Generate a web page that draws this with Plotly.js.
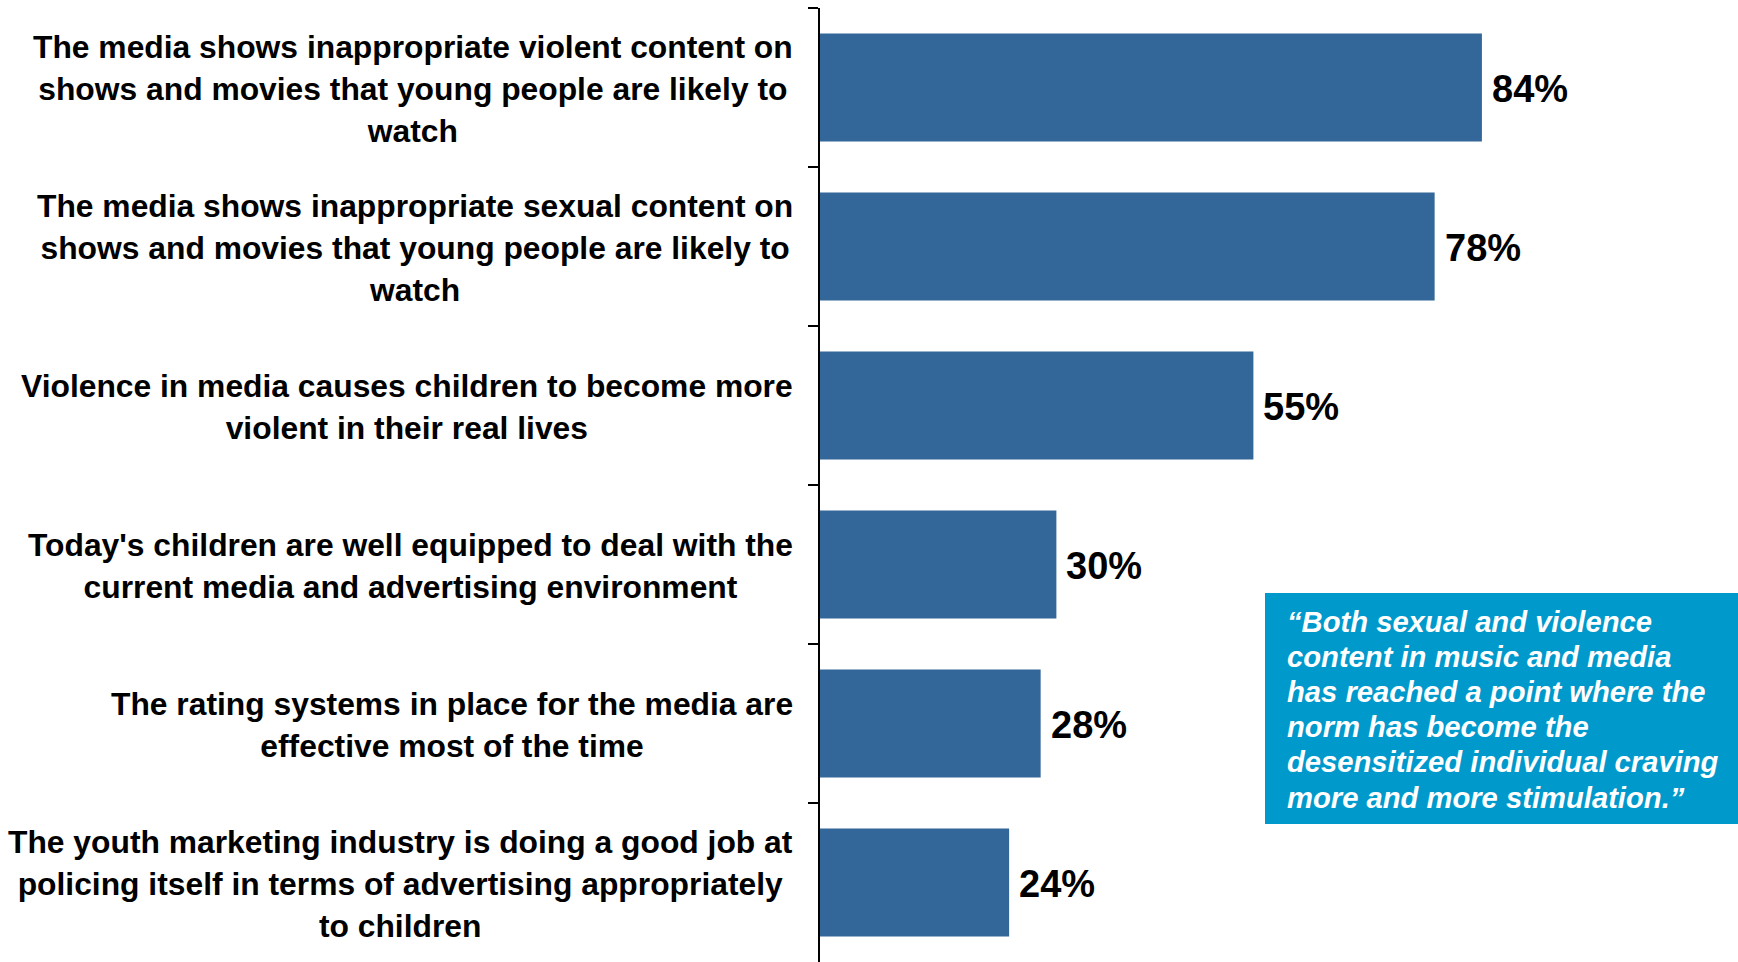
<!DOCTYPE html>
<html>
<head>
<meta charset="utf-8">
<script src="https://cdn.plot.ly/plotly-3.0.1.min.js"></script>
<style>
html,body{margin:0;padding:0;background:#fff;}
#chart{width:1738px;height:962px;}
</style>
</head>
<body>
<div id="chart"></div>
<script>
var categories = [
  "The media shows inappropriate violent content on<br>shows and movies that young people are likely to<br>watch",
  "The media shows inappropriate sexual content on<br>shows and movies that young people are likely to<br>watch",
  "Violence in media causes children to become more<br>violent in their real lives",
  "Today's children are well equipped to deal with the<br>current media and advertising environment",
  "The rating systems in place for the media are<br>effective most of the time",
  "The youth marketing industry is doing a good job at<br>policing itself in terms of advertising appropriately<br>to children"
];
var values = [84, 78, 55, 30, 28, 24];
var quoteLines = [
  "“Both sexual and violence",
  "content in music and media",
  "has reached a point where the",
  "norm has become the",
  "desensitized individual craving",
  "more and more stimulation.”"
];

var FONT = '"Liberation Sans", Arial, sans-serif';
var BAR = '#336699';
var BOX = '#0099CC';

var keys = categories.map(function(c, i){ return 'c' + i; });

var trace = {
  type: 'bar',
  orientation: 'h',
  x: values,
  y: keys,
  marker: {color: BAR, line: {width: 0}},
  hoverinfo: 'none',
  cliponaxis: false
};

var annotations = [];
categories.forEach(function(c, i){
  var lines = c.split('<br>').map(function(l){
    return '<span style="font-size:31.8px">' + l + '</span>';
  }).join('<br>');
  annotations.push({
    xref: 'paper', x: 0, xshift: -25, yshift: -1, xanchor: 'right',
    yref: 'y', y: keys[i], yanchor: 'middle',
    text: '<b>' + lines + '</b>', align: 'center', showarrow: false,
    font: {family: FONT, size: 32.3, color: '#000'}
  });
  annotations.push({
    xref: 'x', x: values[i], xshift: 8, yshift: -1, xanchor: 'left',
    yref: 'y', y: keys[i], yanchor: 'middle',
    text: '<b>' + values[i] + '%</b>', showarrow: false,
    font: {family: FONT, size: 38, color: '#000'}
  });
});

annotations.push({
  xref: 'paper', x: (1285 - 820) / 918, xanchor: 'left',
  yref: 'paper', y: 1 - (710 - 8) / 954, yanchor: 'middle',
  text: '<b><i>' + quoteLines.map(function(l){
    return '<span style="font-size:29.2px">' + l + '</span>';
  }).join('<br>') + '</i></b>',
  align: 'left', showarrow: false,
  font: {family: FONT, size: 27, color: '#fff'}
});

var layout = {
  width: 1738, height: 962,
  margin: {l: 820, r: 0, t: 8, b: 0, pad: 0},
  paper_bgcolor: '#fff', plot_bgcolor: '#fff',
  showlegend: false,
  bargap: 0.32,
  xaxis: {range: [0, 116.5], visible: false, fixedrange: true},
  yaxis: {
    type: 'category', categoryorder: 'array', categoryarray: keys,
    range: [5.5, -0.5],
    showticklabels: false, showgrid: false, zeroline: false,
    showline: true, linecolor: '#000', linewidth: 2,
    ticks: 'outside', tickson: 'boundaries', ticklen: 10, tickwidth: 1.5, tickcolor: '#000',
    fixedrange: true
  },
  shapes: [{
    type: 'rect', xref: 'paper', yref: 'paper',
    x0: (1265 - 820) / 918, x1: 1,
    y0: 1 - (824 - 8) / 954, y1: 1 - (593 - 8) / 954,
    fillcolor: BOX, line: {width: 0}, layer: 'above'
  }],
  annotations: annotations,
  font: {family: FONT}
};

Plotly.newPlot('chart', [trace], layout, {staticPlot: true});
</script>
</body>
</html>
